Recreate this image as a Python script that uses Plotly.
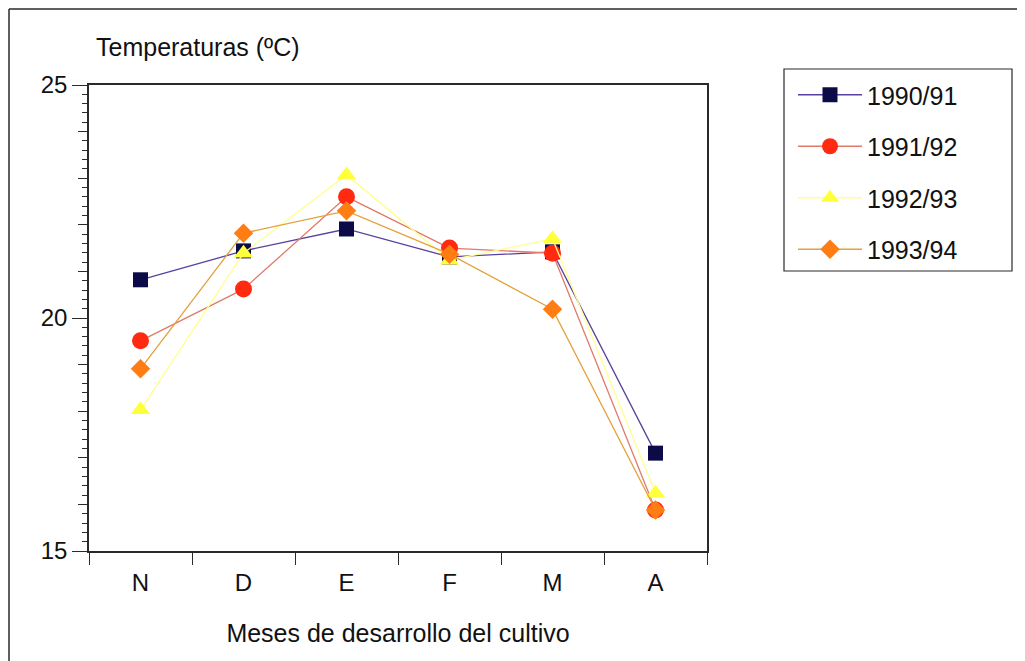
import plotly.graph_objects as go

months = ["N", "D", "E", "F", "M", "A"]
s1990 = [20.82, 21.44, 21.91, 21.31, 21.42, 17.10]
s1991 = [19.51, 20.62, 22.60, 21.50, 21.39, 15.88]
s1992 = [18.03, 21.39, 23.07, 21.24, 21.70, 16.24]
s1993 = [18.91, 21.82, 22.30, 21.37, 20.19, 15.88]
names = ["1990/91", "1991/92", "1992/93", "1993/94"]

FONT = "Liberation Sans, Arial, Helvetica, sans-serif"
AX = "#2a2a2a"

OFF = 8  # page body margin
W, H = 1025 - OFF, 661 - OFF
L = 89 - OFF
T = 85 - OFF
R = W - (707 - OFF)
B = H - (551 - OFF)
PW, PH = W - L - R, H - T - B

def px_x(x):
    return (x - OFF - L) / PW

def px_y(y):
    return (H - B - (y - OFF)) / PH

styles = [
    dict(symbol="square", size=15, mcolor="#0d0b47", lcolor="#5a40a0"),
    dict(symbol="circle", size=17, mcolor="#ff2a10", lcolor="#e07a6a"),
    dict(symbol="triangle-up", size=17, mcolor="#ffff3c", lcolor="#ffff90"),
    dict(symbol="diamond", size=15, mcolor="#ff7d12", lcolor="#e4a03c"),
]

fig = go.Figure()
for i, (name, ys) in enumerate(zip(names, [s1990, s1991, s1992, s1993])):
    st = styles[i]
    fig.add_trace(go.Scatter(
        x=months, y=ys, name=name, mode="lines+markers",
        line=dict(color=st["lcolor"], width=1.3),
        marker=dict(symbol=st["symbol"], size=st["size"], color=st["mcolor"],
                    line=dict(width=0)),
        legendgroup=name,
    ))

# invisible helper trace for the integer-tick overlay axis
fig.add_trace(go.Scatter(x=[months[0]], y=[None], yaxis="y2", showlegend=False,
                         hoverinfo="skip", mode="markers"))

fig.update_layout(
    width=W, height=H,
    margin=dict(l=L, r=R, t=T, b=B),
    paper_bgcolor="white", plot_bgcolor="white",
    font=dict(family=FONT, size=25, color="#111"),
    showlegend=True,
    legend=dict(
        x=px_x(793), y=px_y(72), xanchor="left", yanchor="top",
        borderwidth=0, bgcolor="rgba(0,0,0,0)",
        font=dict(size=25, family=FONT, color="#111"),
        tracegroupgap=16, itemwidth=64,
    ),
    xaxis=dict(
        type="category", range=[-0.5, 5.5],
        showgrid=False, zeroline=False,
        showline=True, linecolor=AX, linewidth=1.5, mirror=True,
        ticks="outside", tickson="boundaries", ticklen=12, tickwidth=1.2, tickcolor=AX,
        tickfont=dict(size=24), ticklabelstandoff=9,
        title=dict(text="Meses de desarrollo del cultivo", font=dict(size=25), standoff=30),
    ),
    yaxis=dict(
        range=[15, 25], tickvals=[15, 20, 25],
        showgrid=False, zeroline=False,
        showline=True, linecolor=AX, linewidth=1.5, mirror=True,
        ticks="outside", ticklen=15, tickwidth=1.2, tickcolor=AX,
        tickfont=dict(size=24),
        minor=dict(dtick=0.2, tick0=15, ticks="outside", ticklen=5, tickwidth=1, tickcolor=AX,
                   showgrid=False),
    ),
    yaxis2=dict(
        range=[15, 25], overlaying="y", side="left", anchor="x",
        dtick=1, tick0=15, ticks="outside", ticklen=10, tickwidth=1, tickcolor=AX,
        showticklabels=False, showgrid=False, zeroline=False, showline=False,
    ),
    annotations=[
        dict(text="Temperaturas (ºC)", x=px_x(94), y=px_y(47), xref="paper", yref="paper",
             xanchor="left", yanchor="middle", showarrow=False, font=dict(size=25)),
    ],
    shapes=[
        dict(type="line", xref="paper", yref="paper", x0=px_x(9), x1=px_x(1030),
             y0=px_y(9), y1=px_y(9), line=dict(color=AX, width=1.5)),
        dict(type="line", xref="paper", yref="paper", x0=px_x(9), x1=px_x(9),
             y0=px_y(9), y1=px_y(670), line=dict(color=AX, width=1.5)),
        dict(type="rect", xref="paper", yref="paper", x0=px_x(784), x1=px_x(1012),
             y0=px_y(271), y1=px_y(69), line=dict(color=AX, width=1.2),
             fillcolor="rgba(0,0,0,0)", layer="below"),
    ],
)

fig.write_html("out.html")
